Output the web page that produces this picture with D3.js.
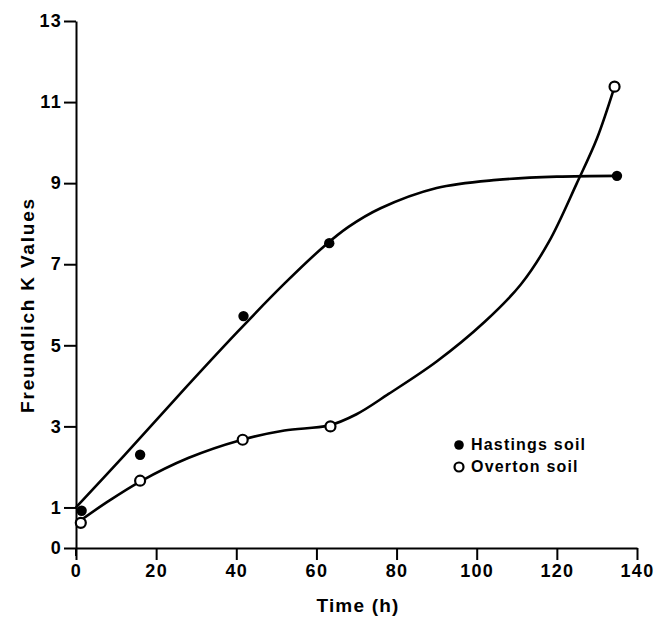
<!DOCTYPE html>
<html><head><meta charset="utf-8">
<script src="https://cdn.jsdelivr.net/npm/d3@7"></script>
<style>body{margin:0;background:#fff}svg{display:block}</style>
</head><body>
<svg id="c" width="656" height="622"></svg>
<script>
// Measured data points
const hastingsTime = [1.4, 16, 41.8, 63.2, 135];
const hastingsK    = [0.92, 2.3, 5.72, 7.52, 9.18];
const overtonTime  = [1.2, 16, 41.6, 63.5, 134.4];
const overtonK     = [0.62, 1.66, 2.67, 3.0, 11.38];
// Hand-drawn fitted curves
const hastingsFitT = [0, 12, 25, 40, 52, 62, 68, 76, 90, 105, 120, 135];
const hastingsFitK = [1.0, 2.28, 3.7, 5.3, 6.52, 7.45, 7.92, 8.38, 8.88, 9.08, 9.16, 9.18];
const overtonFitT  = [0, 8, 16, 28, 41, 52, 63, 70, 78, 90, 102, 111, 118, 125, 130, 134.4];
const overtonFitK  = [0.6, 1.15, 1.64, 2.22, 2.66, 2.9, 3.02, 3.3, 3.8, 4.6, 5.58, 6.5, 7.55, 9.0, 10.1, 11.38];
const xTicks = [0, 20, 40, 60, 80, 100, 120, 140];
const yTicks = [0, 1, 3, 5, 7, 9, 11, 13];
const seriesNames = ["Hastings soil", "Overton soil"];

const svg = d3.select("#c");
const x = d3.scaleLinear().domain([0, 140]).range([76, 637]);
const y = d3.scaleLinear().domain([0, 13]).range([548, 21]);
const font = "'Liberation Sans', Arial, sans-serif";

// axes
const xAxis = svg.append("g").attr("transform", `translate(0,${y(0)})`)
  .call(d3.axisBottom(x).tickValues(xTicks).tickSize(12).tickPadding(4).tickSizeOuter(0));
const yAxis = svg.append("g").attr("transform", `translate(${x(0)},0)`)
  .call(d3.axisLeft(y).tickValues(yTicks).tickSize(12).tickPadding(2).tickSizeOuter(0));
[xAxis, yAxis].forEach(g => {
  g.select(".domain").attr("stroke", "#000").attr("stroke-width", 2);
  g.selectAll(".tick line").attr("stroke", "#000").attr("stroke-width", 2);
  g.selectAll(".tick text").attr("fill", "#000").style("font-family", font)
    .style("font-size", "18px").style("font-weight", "bold").style("letter-spacing", "1.3px");
});
svg.append("line").attr("x1", x(0)).attr("x2", x(0)).attr("y1", y(0)).attr("y2", y(0) + 8)
  .attr("stroke", "#000").attr("stroke-width", 2);

// curves
const line = d3.line().curve(d3.curveCatmullRom.alpha(0.5)).x(d => x(d[0])).y(d => y(d[1]));
const hFit = hastingsFitT.map((t, i) => [t, hastingsFitK[i]]);
const oFit = overtonFitT.map((t, i) => [t, overtonFitK[i]]);
[hFit, oFit].forEach(d => svg.append("path").datum(d).attr("d", line)
  .attr("fill", "none").attr("stroke", "#000").attr("stroke-width", 2.6));

// points
svg.selectAll(".h").data(hastingsTime).join("circle")
  .attr("cx", (d) => x(d)).attr("cy", (d, i) => y(hastingsK[i])).attr("r", 5.2).attr("fill", "#000");
svg.selectAll(".o").data(overtonTime).join("circle")
  .attr("cx", (d) => x(d)).attr("cy", (d, i) => y(overtonK[i])).attr("r", 5)
  .attr("fill", "#fff").attr("stroke", "#000").attr("stroke-width", 2.2);

// axis titles
svg.append("text").attr("x", 358).attr("y", 612).attr("text-anchor", "middle")
  .style("font-family", font).style("font-size", "19px").style("font-weight", "bold")
  .style("letter-spacing", "1.2px").text("Time (h)");
svg.append("text").attr("transform", "translate(34,305) rotate(-90)").attr("text-anchor", "middle")
  .style("font-family", font).style("font-size", "19px").style("font-weight", "bold")
  .style("letter-spacing", "1.8px").text("Freundlich K Values");

// legend
const lg = svg.append("g");
lg.append("circle").attr("cx", 459).attr("cy", 445).attr("r", 4.8).attr("fill", "#000");
lg.append("circle").attr("cx", 459).attr("cy", 467).attr("r", 4.5).attr("fill", "#fff")
  .attr("stroke", "#000").attr("stroke-width", 2.2);
lg.selectAll("text").data(seriesNames).join("text")
  .attr("x", 471).attr("y", (d, i) => 450 + i * 22)
  .style("font-family", font).style("font-size", "16px").style("font-weight", "bold")
  .style("letter-spacing", "1.2px").text(d => d);
</script>
</body></html>
